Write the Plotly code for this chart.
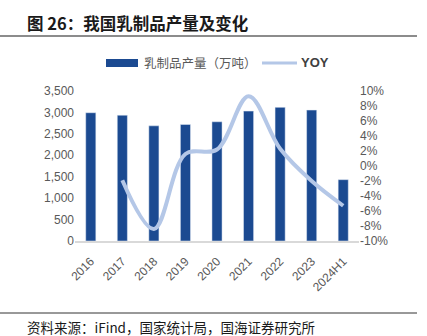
import plotly.graph_objects as go

years = ["2016", "2017", "2018", "2019", "2020", "2021", "2022", "2023", "2024H1"]
output = [2993, 2935, 2687, 2719, 2782, 3031, 3118, 3055, 1431]
yoy_years = ["2017", "2018", "2019", "2020", "2021", "2022", "2023", "2024H1"]
yoy = [-1.9, -8.4, 1.6, 2.2, 9.3, 2.3, -2.0, -5.3]
left_ticks = [0, 500, 1000, 1500, 2000, 2500, 3000, 3500]
right_ticks = [-10, -8, -6, -4, -2, 0, 2, 4, 6, 8, 10]

W, H = 427, 336
L, R, T, B = 75, 359, 91, 241

def px(x):
    return (x - L) / (R - L)

def py(y):
    return (B - y) / (B - T)

BAR = "#1B4A91"
LINE = "#B4C7E7"
GRAY = "#595959"
CJK = "Noto Sans CJK SC"

fig = go.Figure()
fig.add_trace(go.Bar(x=years, y=output, marker_color=BAR, width=0.32,
                     name="乳制品产量（万吨）", showlegend=False))
fig.add_trace(go.Scatter(x=yoy_years, y=yoy, yaxis="y2", mode="lines",
                         line=dict(color=LINE, width=4, shape="spline", smoothing=1.0),
                         name="YOY", showlegend=False))

fig.update_layout(
    width=W, height=H,
    margin=dict(l=L, r=W - R, t=T, b=H - B, pad=0),
    plot_bgcolor="white", paper_bgcolor="white",
    font=dict(family="Liberation Sans, Arial, sans-serif", color=GRAY, size=12),
    xaxis=dict(type="category", categoryorder="array", categoryarray=years,
               tickangle=-45, tickfont=dict(size=12, color=GRAY),
               showline=True, linecolor="#D9D9D9", linewidth=1.5,
               showgrid=False, ticks="", ticklen=0, ticklabelstandoff=7),
    yaxis=dict(range=[0, 3500], tickvals=left_ticks,
               ticktext=[f"{v:,}" for v in left_ticks],
               showgrid=False, zeroline=False, showline=False,
               tickfont=dict(size=12, color=GRAY), ticks=""),
    yaxis2=dict(range=[-10, 10], tickvals=right_ticks,
                ticktext=[f"{v}%" for v in right_ticks],
                overlaying="y", side="right", showgrid=False, zeroline=False,
                showline=False, tickfont=dict(size=12, color=GRAY), ticks=""),
    showlegend=False,
    bargap=0.68,
)

# title
fig.add_annotation(xref="paper", yref="paper", x=px(25), y=py(23), xanchor="left", yanchor="middle",
                   text="<b>图 26：我国乳制品产量及变化</b>", showarrow=False,
                   font=dict(family=CJK, size=16.5, color="#1a1a1a"))
fig.add_shape(type="line", xref="paper", yref="paper", x0=px(0), x1=px(417), y0=py(36), y1=py(36),
              line=dict(color="#8c8c8c", width=2))

# legend
fig.add_shape(type="rect", xref="paper", yref="paper", x0=px(106), x1=px(138), y0=py(59), y1=py(67),
              fillcolor=BAR, line=dict(width=0))
fig.add_annotation(xref="paper", yref="paper", x=px(142), y=py(63), xanchor="left", yanchor="middle",
                   text="乳制品产量（万吨）", showarrow=False,
                   font=dict(family=CJK, size=12.5, color=GRAY))
fig.add_shape(type="line", xref="paper", yref="paper", x0=px(262), x1=px(297), y0=py(63), y1=py(63),
              line=dict(color=LINE, width=3))
fig.add_annotation(xref="paper", yref="paper", x=px(299), y=py(63), xanchor="left", yanchor="middle",
                   text="<b>YOY</b>", showarrow=False,
                   font=dict(family="Liberation Sans, Arial", size=13, color="#404040"))

# footer
fig.add_shape(type="line", xref="paper", yref="paper", x0=px(0), x1=px(417), y0=py(313), y1=py(313),
              line=dict(color="#333333", width=1))
fig.add_annotation(xref="paper", yref="paper", x=px(25), y=py(327), xanchor="left", yanchor="middle",
                   text="资料来源：iFind，国家统计局，国海证券研究所", showarrow=False,
                   font=dict(family=CJK, size=13.5, color="#1a1a1a"))

fig.write_html("out.html")
